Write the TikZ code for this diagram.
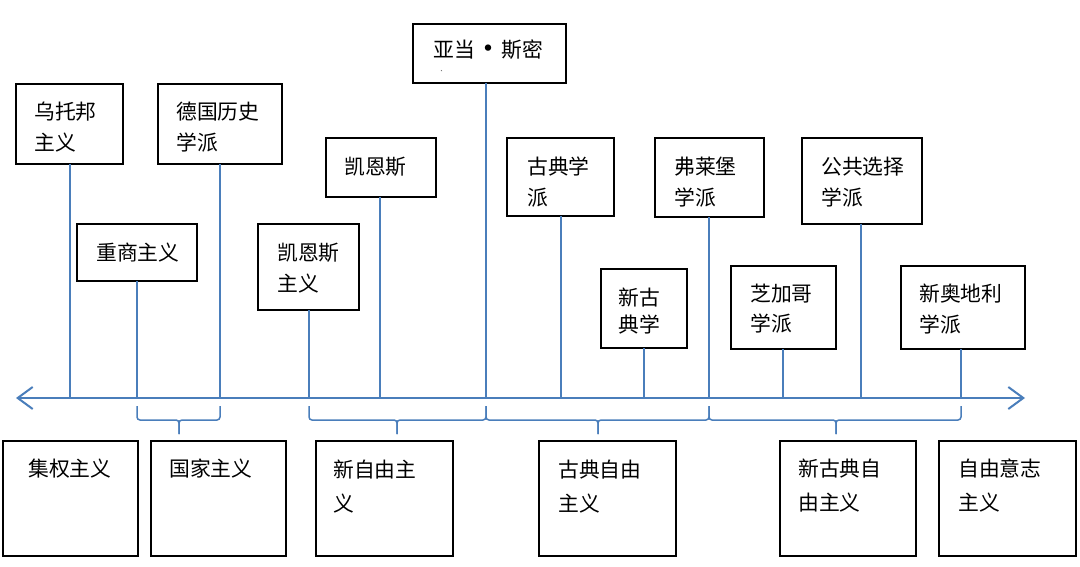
\documentclass[tikz,border=0pt]{standalone}
\usepackage{fontspec}
\newfontfamily\cjk{Noto Sans CJK SC}
\usetikzlibrary{arrows.meta}
\definecolor{axisblue}{HTML}{4A7EBB}
\newcommand{\twolines}[3]{\vtop{\baselineskip=#3pt\hbox{#1}\hbox{#2}}}
\begin{document}
\begin{tikzpicture}[x=1pt,y=-1pt,
  box/.style={draw=black,line width=1.6pt,fill=white,inner sep=0pt,outer sep=0pt},
  lbl/.style={font=\cjk\fontsize{20.8pt}{31pt}\selectfont,text=black,inner sep=0pt,anchor=base west},
  tick/.style={draw=axisblue,line width=1.4pt},
  axisline/.style={draw=axisblue,line width=2.2pt,{Straight Barb[length=15pt,width=22pt,line width=2pt]}-{Straight Barb[length=15pt,width=22pt,line width=2pt]}},
  bracestyle/.style={draw=axisblue,line width=1.5pt,rounded corners=3pt}]
\useasboundingbox (0,0) rectangle (1080,567);
\fill[white] (0,0) rectangle (1080,567);

% axis
\coordinate (axl) at (16,398);
\coordinate (axr) at (1025,398);
\draw[axisline] (axl) -- (axr);

% tick coordinates on the axis
\coordinate (t1) at (70,398);
\coordinate (t2) at (137,398);
\coordinate (t3) at (220,398);
\coordinate (t4) at (309,398);
\coordinate (t5) at (380,398);
\coordinate (t6) at (486,398);
\coordinate (t7) at (561,398);
\coordinate (t8) at (644,398);
\coordinate (t9) at (709,398);
\coordinate (t10) at (783,398);
\coordinate (t11) at (861,398);
\coordinate (t12) at (961,398);

% top boxes
\node[box,minimum width=107pt,minimum height=80pt] (utopia) at (69.5,124) {};
\node[box,minimum width=124pt,minimum height=80pt] (german) at (220,124) {};
\node[box,minimum width=120pt,minimum height=57pt] (merc) at (137,252.5) {};
\node[box,minimum width=110pt,minimum height=59pt] (keynes) at (381,167.5) {};
\node[box,minimum width=101pt,minimum height=86pt] (keynesism) at (308.5,267) {};
\node[box,minimum width=153pt,minimum height=59pt] (smith) at (489.5,53.5) {};
\node[box,minimum width=107pt,minimum height=78pt] (classical) at (560.5,177) {};
\node[box,minimum width=86pt,minimum height=79pt] (neoclass) at (644,308.5) {};
\node[box,minimum width=109pt,minimum height=79pt] (freiburg) at (709.5,177.5) {};
\node[box,minimum width=105pt,minimum height=83pt] (chicago) at (783.5,307.5) {};
\node[box,minimum width=120pt,minimum height=86pt] (public) at (862,181) {};
\node[box,minimum width=124pt,minimum height=83pt] (neoaus) at (963,307.5) {};

% connectors from boxes to the axis
\draw[tick] (utopia.south -| t1) -- (t1);
\draw[tick] (merc.south -| t2) -- (t2);
\draw[tick] (german.south -| t3) -- (t3);
\draw[tick] (keynesism.south -| t4) -- (t4);
\draw[tick] (keynes.south -| t5) -- (t5);
\draw[tick] (smith.south -| t6) -- (t6);
\draw[tick] (classical.south -| t7) -- (t7);
\draw[tick] (neoclass.south -| t8) -- (t8);
\draw[tick] (freiburg.south -| t9) -- (t9);
\draw[tick] (chicago.south -| t10) -- (t10);
\draw[tick] (public.south -| t11) -- (t11);
\draw[tick] (neoaus.south -| t12) -- (t12);

% top labels
\node[lbl] (utopia-t) at (34,120) {\twolines{乌托邦}{主义}{31}};
\node[lbl] (german-t) at (176,120) {\twolines{德国历史}{学派}{31}};
\node[lbl] (merc-t) at (96,261) {重商主义};
\node[lbl] (keynes-t) at (344,175) {凯恩斯};
\node[lbl] (keynesism-t) at (277,261) {\twolines{凯恩斯}{主义}{31}};
\node[lbl] (smith-t) at (433,58) {亚当\makebox[27pt][c]{\raisebox{-1.5pt}{\fontsize{30pt}{30pt}\selectfont •}}斯密};
\node[font=\cjk\fontsize{5pt}{5pt}\selectfont,inner sep=0pt] (smith-mark) at (443,71) {、};
\node[lbl] (classical-t) at (527,175) {\twolines{古典学}{派}{31}};
\node[lbl] (neoclass-t) at (618,305) {\twolines{新古}{典学}{28}};
\node[lbl] (freiburg-t) at (674,175) {\twolines{弗莱堡}{学派}{31}};
\node[lbl] (chicago-t) at (750,301) {\twolines{芝加哥}{学派}{31}};
\node[lbl] (public-t) at (821,175) {\twolines{公共选择}{学派}{31}};
\node[lbl] (neoaus-t) at (919,301) {\twolines{新奥地利}{学派}{32}};

% braces below the axis
\draw[bracestyle] (137,406) |- (179,420) -- (179,434);
\draw[bracestyle] (220,406) |- (179,420) -- (179,434);
\draw[bracestyle] (309,406) |- (397,420) -- (397,434);
\draw[bracestyle] (486,406) |- (397,420) -- (397,434);
\draw[bracestyle] (486,406) |- (598,420) -- (598,434);
\draw[bracestyle] (709,406) |- (598,420) -- (598,434);
\draw[bracestyle] (709,406) |- (836,420) -- (836,434);
\draw[bracestyle] (961,406) |- (836,420) -- (836,434);

% bottom boxes
\node[box,minimum width=135pt,minimum height=115pt] (b1) at (70.5,498.5) {};
\node[box,minimum width=135pt,minimum height=115pt] (b2) at (218.5,498.5) {};
\node[box,minimum width=137pt,minimum height=115pt] (b3) at (384.5,498.5) {};
\node[box,minimum width=137pt,minimum height=115pt] (b4) at (607.5,498.5) {};
\node[box,minimum width=136pt,minimum height=115pt] (b5) at (848,498.5) {};
\node[box,minimum width=137pt,minimum height=115pt] (b6) at (1007.5,498.5) {};

\node[lbl] (b1-t) at (28,476) {集权主义};
\node[lbl] (b2-t) at (169,476) {国家主义};
\node[lbl] (b3-t) at (333,477) {\twolines{新自由主}{义}{34}};
\node[lbl] (b4-t) at (558,477) {\twolines{古典自由}{主义}{34}};
\node[lbl] (b5-t) at (798,476) {\twolines{新古典自}{由主义}{34}};
\node[lbl] (b6-t) at (958,476) {\twolines{自由意志}{主义}{34}};
\end{tikzpicture}
\end{document}
